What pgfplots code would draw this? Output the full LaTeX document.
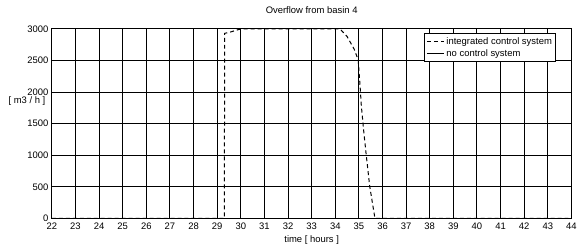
\documentclass[border=0pt]{standalone}
\usepackage{fontspec}
\setmainfont{Liberation Sans}
\usepackage{pgfplots}
\pgfplotsset{compat=1.18}
\begin{document}
\begin{tikzpicture}[x=1bp,y=1bp]
\begin{axis}[
  name=ax,
  at={(52bp,27bp)},
  scale only axis,
  width=521bp, height=190bp,
  xmin=22, xmax=44, ymin=0, ymax=3000,
  xtick={22,23,...,44},
  ytick={0,500,...,3000},
  grid=major,
  major grid style={black, line width=1bp},
  axis line style={black, line width=1bp},
  tick style={draw=none},
  font=\fontsize{9.5}{11}\selectfont,
  /pgf/number format/assume math mode=true,
  /pgf/number format/1000 sep={},
  ticklabel style={font=\fontsize{9.5}{11}\selectfont},
  xticklabel style={yshift=-1.5bp},
  title={Overflow from basin 4},
  title style={yshift=6bp},
  xlabel={time [ hours ]},
  xlabel style={at={(rel axis cs:0.5,0)}, anchor=center, yshift=-21.5bp},
  ylabel={[ m3 / h ]},
  ylabel style={rotate=-90, at={(rel axis cs:0,0.62)}, anchor=center, xshift=-25bp},
  legend style={at={(rel axis cs:0.971,0.979)}, anchor=north east, draw=black, line width=1bp, fill=white, font=\fontsize{9.5}{11}\selectfont, inner sep=2bp},
  legend cell align=left,
]
\addplot[black, line width=1bp, dash pattern=on 4bp off 3bp] coordinates {
(22,0) (29.30,0) (29.32,2930) (29.6,2955) (29.9,2990) (30.1,3000) (34.2,3000)
(34.5,2880) (34.8,2680) (34.97,2510) (35.05,2100) (35.1,1800) (35.2,1400)
(35.3,1040) (35.46,505) (35.68,0) (44,0)};
\addlegendentry{integrated control system}
\addplot[black, line width=1bp] coordinates {(22,0) (44,0)};
\addlegendentry{no control system}
\end{axis}
\path (0,0) rectangle (580bp,246bp);
\end{tikzpicture}
\end{document}
